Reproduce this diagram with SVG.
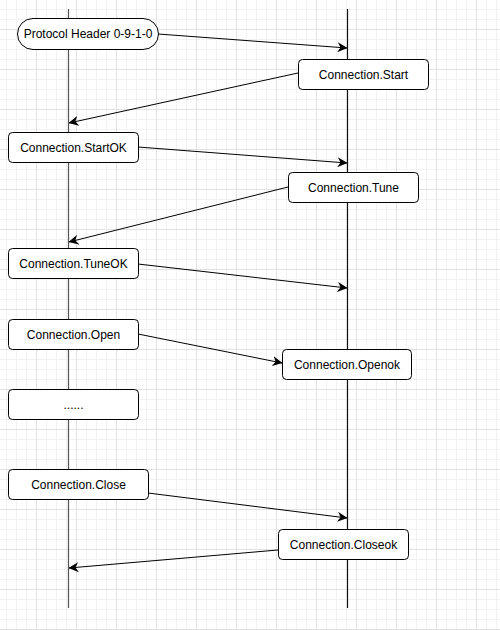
<svg xmlns="http://www.w3.org/2000/svg" width="500" height="630" viewBox="0 0 500 630">
  <defs>
    <pattern id="minor" width="10" height="10" patternUnits="userSpaceOnUse" x="6" y="9">
      <path d="M0 0.5 H10 M0.5 0 V10" fill="none" stroke="#f2f2f2" stroke-width="1"/>
    </pattern>
    <pattern id="major" width="40" height="40" patternUnits="userSpaceOnUse" x="36" y="29">
      <path d="M0 0.5 H40 M0.5 0 V40" fill="none" stroke="#e2e2e2" stroke-width="1"/>
    </pattern>
    <marker id="arrow" viewBox="0 0 10 10" refX="9.5" refY="5" markerWidth="10" markerHeight="10" markerUnits="userSpaceOnUse" orient="auto">
      <path d="M0 0 L10 5 L0 10 L3 5 Z" fill="#000"/>
    </marker>
  </defs>
  <style>
    .node rect { fill: #fff; stroke: #000; stroke-width: 1; }
    .node text { font-family: "Liberation Sans", Arial, sans-serif; font-size: 12px; fill: #000; text-anchor: middle; dominant-baseline: central; }
    .life { stroke-width: 1.2; fill: none; }
    .msg { stroke: #000; stroke-width: 1; fill: none; marker-end: url(#arrow); }
  </style>

  <!-- background grid -->
  <rect width="500" height="630" fill="#fff"/>
  <rect width="500" height="630" fill="url(#minor)"/>
  <rect width="500" height="630" fill="url(#major)"/>

  <!-- lifelines -->
  <g id="lifelines">
    <line class="life" x1="68.5" y1="9" x2="68.5" y2="608" stroke="#555"/>
    <line class="life" x1="347.5" y1="9" x2="347.5" y2="608" stroke="#111"/>
  </g>

  <!-- messages -->
  <g id="connectors">
    <line class="msg" x1="158" y1="34" x2="347" y2="48"/>
    <line class="msg" x1="298" y1="73" x2="69" y2="123"/>
    <line class="msg" x1="138" y1="147" x2="347" y2="163"/>
    <line class="msg" x1="288" y1="187" x2="69" y2="242"/>
    <line class="msg" x1="138" y1="264" x2="347" y2="288"/>
    <line class="msg" x1="138" y1="334" x2="282" y2="363"/>
    <line class="msg" x1="148" y1="493" x2="347" y2="518"/>
    <line class="msg" x1="278" y1="550" x2="69" y2="568"/>
  </g>

  <g id="protocol-header" class="node">
    <rect x="17.5" y="18.5" width="141" height="31" rx="15.5" ry="15.5"/>
    <text x="88" y="34">Protocol Header 0-9-1-0</text>
  </g>
  <g id="connection-start" class="node">
    <rect x="298.5" y="59.5" width="130" height="30" rx="4" ry="4"/>
    <text x="363.5" y="74.5">Connection.Start</text>
  </g>
  <g id="connection-startok" class="node">
    <rect x="8.5" y="132.5" width="130" height="30" rx="4" ry="4"/>
    <text x="73.5" y="147.5">Connection.StartOK</text>
  </g>
  <g id="connection-tune" class="node">
    <rect x="288.5" y="172.5" width="130" height="30" rx="4" ry="4"/>
    <text x="353.5" y="187.5">Connection.Tune</text>
  </g>
  <g id="connection-tuneok" class="node">
    <rect x="8.5" y="248.5" width="130" height="30" rx="4" ry="4"/>
    <text x="73.5" y="263.5">Connection.TuneOK</text>
  </g>
  <g id="connection-open" class="node">
    <rect x="8.5" y="319.5" width="130" height="30" rx="4" ry="4"/>
    <text x="73.5" y="334.5">Connection.Open</text>
  </g>
  <g id="connection-openok" class="node">
    <rect x="282.5" y="349.5" width="129" height="30" rx="4" ry="4"/>
    <text x="347" y="364.5">Connection.Openok</text>
  </g>
  <g id="ellipsis" class="node">
    <rect x="8.5" y="389.5" width="130" height="30" rx="4" ry="4"/>
    <text x="73.5" y="404.5">......</text>
  </g>
  <g id="connection-close" class="node">
    <rect x="8.5" y="469.5" width="140" height="30" rx="4" ry="4"/>
    <text x="78.5" y="484.5">Connection.Close</text>
  </g>
  <g id="connection-closeok" class="node">
    <rect x="278.5" y="529.5" width="130" height="30" rx="4" ry="4"/>
    <text x="343.5" y="544.5">Connection.Closeok</text>
  </g>
</svg>
